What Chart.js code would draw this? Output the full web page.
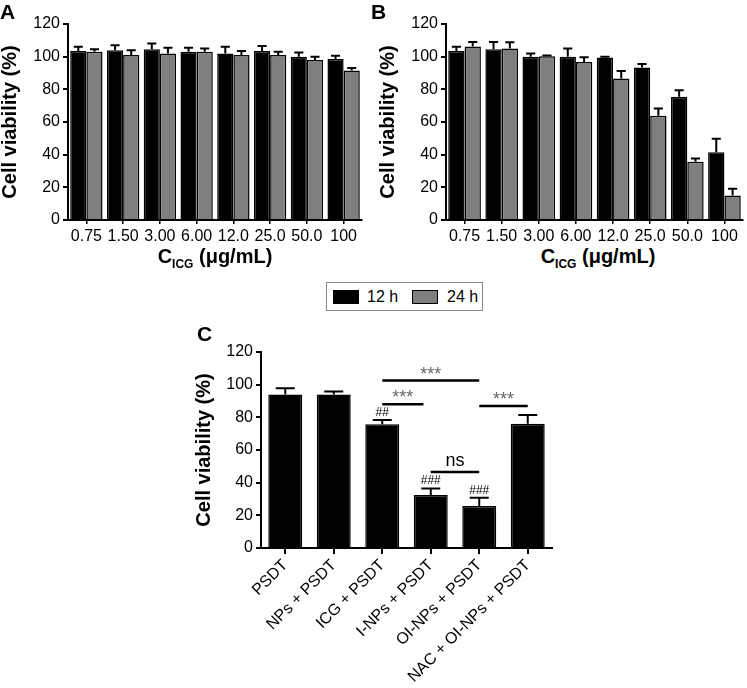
<!DOCTYPE html>
<html>
<head>
<meta charset="utf-8">
<script src="https://cdn.jsdelivr.net/npm/chart.js"></script>
<style>
  body { margin: 0; background: #fff; font-family: "Liberation Sans", Arial, sans-serif; }
  #wrap { position: relative; width: 747px; height: 688px; overflow: hidden; }
  .box { position: absolute; }
  .panel { position: absolute; font-weight: bold; font-size: 21px; line-height: 21px; }
  .xt { position: absolute; font-weight: bold; font-size: 20px; line-height: 20px; white-space: nowrap; transform: translateX(-50%); }
  .xt sub { font-size: 12px; vertical-align: -5px; line-height: 0; }
  #legend { position: absolute; left: 326px; top: 282px; width: 157px; height: 29px; border: 1px solid #888; box-sizing: border-box; }
  .sw { position: absolute; width: 26px; height: 14px; border: 1.5px solid #000; box-sizing: border-box; }
  .lt { position: absolute; font-size: 16px; line-height: 16px; }
</style>
</head>
<body>
<div id="wrap">
  <div class="box" style="left:0;top:0"><canvas id="chartA" width="370" height="245"></canvas></div>
  <div class="box" style="left:378px;top:0"><canvas id="chartB" width="369" height="245"></canvas></div>
  <div class="box" style="left:190px;top:320px"><canvas id="chartC" width="370" height="368"></canvas></div>

  <div class="panel" style="left:0;top:1px">A</div>
  <div class="panel" style="left:371px;top:1px">B</div>
  <div class="panel" style="left:197px;top:323px">C</div>

  <div class="xt" style="left:215px;top:246px">C<sub>ICG</sub> (μg/mL)</div>
  <div class="xt" style="left:598px;top:246px">C<sub>ICG</sub> (μg/mL)</div>

  <div id="legend">
    <div class="sw" style="left:6px;top:7px;background:#000"></div>
    <div class="lt" style="left:40px;top:6px">12 h</div>
    <div class="sw" style="left:85px;top:7px;background:#7f7f7f"></div>
    <div class="lt" style="left:120px;top:6px">24 h</div>
  </div>
</div>

<script>
// panel A / B: ICG concentration series
const concLabels = ['0.75', '1.50', '3.00', '6.00', '12.0', '25.0', '50.0', '100'];
const a12 = [103.5, 104, 104.5, 103, 102, 103.5, 100, 98.5];
const a12Err = [2.5, 3, 3.5, 2.5, 4, 3, 2.5, 2];
const a24 = [103, 101, 102, 103, 101, 101, 98, 91.5];
const a24Err = [1.5, 3, 3.5, 2, 2.5, 2, 2, 1.5];
const b12 = [103.5, 104.5, 100, 100, 99.5, 93.3, 75.5, 41.5];
const b12Err = [2.5, 4.5, 2, 5, 0.5, 2.2, 4, 8.3];
const b24 = [106.3, 105, 100.3, 96.7, 86.7, 63.9, 35.7, 15];
const b24Err = [2.7, 3.8, 0.4, 3, 4.5, 4.3, 2, 4.2];

// panel C: treatment groups
const groupLabels = ['PSDT', 'NPs + PSDT', 'ICG + PSDT', 'I-NPs + PSDT', 'OI-NPs + PSDT', 'NAC + OI-NPs + PSDT'];
const cVal = [94, 94, 75.7, 32.4, 25.7, 76];
const cErr = [3.8, 1.8, 2.7, 4.1, 5.1, 5.5];

// significance brackets (category positions) and labels
const sigFrom = [2, 2, 4, 3];
const sigTo = [4, 2.85, 5, 4];
const sigLevel = [102.5, 88, 87, 46.5];
const sigText = ['***', '***', '***', 'ns'];
const hashIdx = [2, 3, 4];
const hashText = ['##', '###', '###'];

const FONT = '"Liberation Sans", Arial, sans-serif';
Chart.defaults.font.family = FONT;
Chart.defaults.color = '#000';

const errorBars = {
  id: 'errorBars',
  afterDatasetsDraw(chart) {
    const ctx = chart.ctx;
    const y = chart.scales.y;
    chart.data.datasets.forEach((ds, i) => {
      const meta = chart.getDatasetMeta(i);
      meta.data.forEach((bar, j) => {
        const top = y.getPixelForValue(ds.data[j] + ds.errors[j]);
        const half = bar.width * 0.28;
        ctx.save();
        ctx.strokeStyle = '#000';
        ctx.lineWidth = 2;
        ctx.beginPath();
        ctx.moveTo(bar.x, bar.y);
        ctx.lineTo(bar.x, top);
        ctx.moveTo(bar.x - half, top);
        ctx.lineTo(bar.x + half, top);
        ctx.stroke();
        ctx.restore();
      });
    });
  }
};

const sigMarks = {
  id: 'sigMarks',
  afterDatasetsDraw(chart) {
    const ctx = chart.ctx;
    const x = chart.scales.x, y = chart.scales.y;
    ctx.save();
    ctx.textAlign = 'center';
    ctx.textBaseline = 'alphabetic';
    for (let k = 0; k < sigFrom.length; k++) {
      const x1 = x.getPixelForValue(sigFrom[k]);
      const x2 = x.getPixelForValue(sigTo[k]);
      const yy = y.getPixelForValue(sigLevel[k]);
      ctx.strokeStyle = '#000';
      ctx.lineWidth = 2.5;
      ctx.beginPath();
      ctx.moveTo(x1, yy);
      ctx.lineTo(x2, yy);
      ctx.stroke();
      if (sigText[k] == 'ns') {
        ctx.fillStyle = '#000';
        ctx.font = '18px ' + FONT;
        ctx.fillText(sigText[k], (x1 + x2) / 2, yy - 6);
      } else {
        ctx.fillStyle = '#666';
        ctx.font = '18px ' + FONT;
        ctx.fillText(sigText[k], (x1 + x2) / 2, yy - 1);
      }
    }
    ctx.fillStyle = '#000';
    ctx.font = '12px ' + FONT;
    for (let k = 0; k < hashIdx.length; k++) {
      const i = hashIdx[k];
      const cx = x.getPixelForValue(i);
      const cap = y.getPixelForValue(cVal[i] + cErr[i]);
      ctx.fillText(hashText[k], cx, cap - 4);
    }
    ctx.restore();
  }
};

function yScale(width, titlePad) {
  return {
    min: 0, max: 120,
    ticks: { stepSize: 20, font: { size: 16 }, padding: 3, color: '#000' },
    grid: { drawOnChartArea: false, color: '#000', lineWidth: 2, tickLength: 5 },
    border: { color: '#000', width: 2 },
    title: { display: true, text: 'Cell viability (%)', font: { size: 20, weight: 'bold' }, padding: { top: titlePad, bottom: 0 }, color: '#000' },
    afterFit: (s) => { s.width = width; }
  };
}

function pairChart(id, d12, e12, d24, e24, padRight) {
  new Chart(document.getElementById(id), {
    type: 'bar',
    data: {
      labels: concLabels,
      datasets: [
        { label: '12 h', data: d12, errors: e12, backgroundColor: '#000', borderColor: '#000', borderWidth: 1.5,
          categoryPercentage: 0.88, barPercentage: 1.0 },
        { label: '24 h', data: d24, errors: e24, backgroundColor: '#7f7f7f', borderColor: '#000', borderWidth: 1.5,
          categoryPercentage: 0.88, barPercentage: 1.0 }
      ]
    },
    options: {
      responsive: false,
      animation: false,
      layout: { padding: { top: 24, right: padRight, left: 0, bottom: 0 } },
      plugins: { legend: { display: false }, tooltip: { enabled: false } },
      scales: {
        x: {
          ticks: { font: { size: 16 }, padding: 3, maxRotation: 0, minRotation: 0, autoSkip: false, color: '#000' },
          grid: { offset: false, drawOnChartArea: false, color: '#000', lineWidth: 1.5, tickLength: 4 },
          border: { color: '#000', width: 2 },
          afterFit: (s) => { s.height = 25; }
        },
        y: yScale(68, -2)
      }
    },
    plugins: [errorBars]
  });
}

pairChart('chartA', a12, a12Err, a24, a24Err, 8);
pairChart('chartB', b12, b12Err, b24, b24Err, 4);

new Chart(document.getElementById('chartC'), {
  type: 'bar',
  data: {
    labels: groupLabels,
    datasets: [
      { label: '12 h', data: cVal, errors: cErr, backgroundColor: '#000', borderColor: '#000', borderWidth: 1.5,
        categoryPercentage: 0.7, barPercentage: 1.0 }
    ]
  },
  options: {
    responsive: false,
    animation: false,
    layout: { padding: { top: 32, right: 8, left: 0, bottom: 0 } },
    plugins: { legend: { display: false }, tooltip: { enabled: false } },
    scales: {
      x: {
        ticks: { font: { size: 16 }, padding: 2, maxRotation: 45, minRotation: 45, autoSkip: false, color: '#000' },
        grid: { offset: false, drawOnChartArea: false, color: '#000', lineWidth: 2, tickLength: 6 },
        border: { color: '#000', width: 2 },
        afterFit: (s) => { s.height = 140; }
      },
      y: yScale(71, 2)
    }
  },
  plugins: [errorBars, sigMarks]
});
</script>
</body>
</html>
